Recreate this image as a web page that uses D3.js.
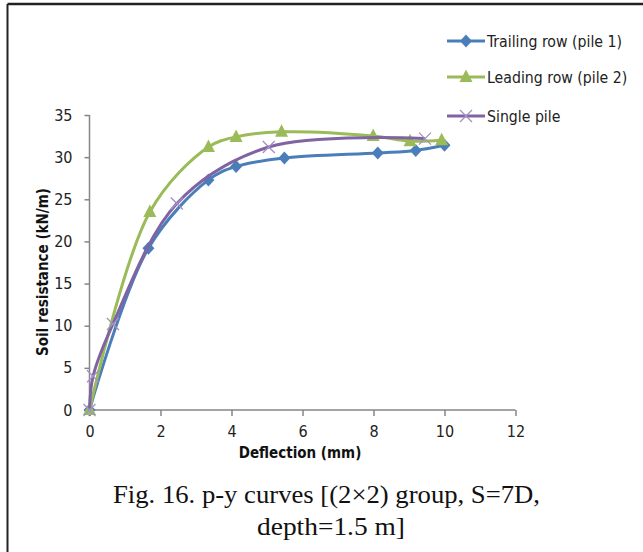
<!DOCTYPE html>
<html><head><meta charset="utf-8">
<script src="https://cdn.jsdelivr.net/npm/d3@7"></script>
<style>
body{margin:0;background:#fff;}
svg{display:block;}
.lab{font-family:"Liberation Sans Narrow","DejaVu Sans Condensed","Open Sans",sans-serif;font-stretch:condensed;}
</style></head>
<body><svg id="c" width="643" height="552"></svg>
<script>
const seriesNames = ["Trailing row (pile 1)", "Leading row (pile 2)", "Single pile"];
const trailingX = [0, 1.66, 3.35, 4.13, 5.49, 8.12, 9.19, 10.0];
const trailingY = [0, 19.2, 27.3, 28.9, 29.9, 30.5, 30.8, 31.4];
const leadingX = [0, 1.70, 3.35, 4.13, 5.41, 7.99, 9.03, 9.92];
const leadingY = [0, 23.5, 31.2, 32.4, 33.0, 32.5, 31.9, 32.0];
const singleX = [0, 0.1, 0.66, 2.46, 5.05, 9.45];
const singleY = [0, 4.0, 10.2, 24.5, 31.2, 32.2];
const xTicks = [0, 2, 4, 6, 8, 10, 12];
const yTicks = [0, 5, 10, 15, 20, 25, 30, 35];
const colors = ["#4a7ebb", "#9bbb59", "#8064a2"];
const markerColors = ["#4a7ebb", "#9bbb59", "#a48fc3"];
const markerTypes = ["diamond", "triangle", "x"];

const svg = d3.select("#c");
// frame
svg.append("line").attr("x1",7.5).attr("x2",643).attr("y1",4).attr("y2",4).attr("stroke","#222").attr("stroke-width",2.5);
svg.append("line").attr("x1",7.5).attr("x2",7.5).attr("y1",4).attr("y2",552).attr("stroke","#222").attr("stroke-width",2);

const x = d3.scaleLinear().domain([0,12]).range([89.5,515.5]);
const y = d3.scaleLinear().domain([0,35]).range([410,115]);

const xAxis = svg.append("g").attr("transform","translate(0,410)")
  .call(d3.axisBottom(x).tickValues(xTicks).tickSize(6).tickPadding(10).tickFormat(d3.format("d")));
const yAxis = svg.append("g").attr("transform","translate(89.5,0)")
  .call(d3.axisLeft(y).tickValues(yTicks).tickSize(5).tickPadding(12).tickFormat(d3.format("d")));
[xAxis,yAxis].forEach(a=>{
  a.selectAll("path,line").attr("stroke","#868686").attr("stroke-width",1.5);
  a.selectAll("text").attr("class","lab").attr("font-size",16).attr("fill","#222");
});
yAxis.select(".domain").attr("d","M0,410V115");
xAxis.select(".domain").attr("d","M89.5,0H515.5");

svg.append("text").attr("class","lab").attr("x",300).attr("y",458).attr("text-anchor","middle")
  .attr("font-size",15).attr("font-weight","bold").attr("fill","#111").text("Deflection (mm)");
svg.append("text").attr("class","lab").attr("transform","translate(48,272) rotate(-90)").attr("text-anchor","middle")
  .attr("font-size",15).attr("font-weight","bold").attr("fill","#111").text("Soil resistance (kN/m)");

const data = [
  trailingX.map((v,i)=>[v,trailingY[i]]),
  leadingX.map((v,i)=>[v,leadingY[i]]),
  singleX.map((v,i)=>[v,singleY[i]])
];
const line = d3.line().x(d=>x(d[0])).y(d=>y(d[1])).curve(d3.curveCatmullRom.alpha(0.5));

function marker(g, type, cx, cy, i){
  if(type==="diamond"){
    g.append("path").attr("d",`M${cx},${cy-6.5}L${cx+6},${cy}L${cx},${cy+6.5}L${cx-6},${cy}Z`).attr("fill",markerColors[i]);
  } else if(type==="triangle"){
    g.append("path").attr("d",`M${cx},${cy-7.5}L${cx+6.5},${cy+5}L${cx-6.5},${cy+5}Z`).attr("fill",markerColors[i]);
  } else {
    g.append("path").attr("d",`M${cx-6},${cy-6}L${cx+6},${cy+6}M${cx+6},${cy-6}L${cx-6},${cy+6}`)
      .attr("stroke",markerColors[i]).attr("stroke-width",1.3).attr("fill","none");
  }
}

data.forEach((pts,i)=>{
  const g = svg.append("g");
  g.append("path").datum(pts).attr("d",line).attr("fill","none").attr("stroke",colors[i]).attr("stroke-width",3);
  pts.forEach(p=>marker(g, markerTypes[i], x(p[0]), y(p[1]), i));
});

// legend
const legY = [41, 77, 116];
seriesNames.forEach((n,i)=>{
  const g = svg.append("g");
  g.append("line").attr("x1",447).attr("x2",485).attr("y1",legY[i]).attr("y2",legY[i]).attr("stroke",colors[i]).attr("stroke-width",3);
  marker(g, markerTypes[i], 466, legY[i], i);
  g.append("text").attr("class","lab").attr("x",487).attr("y",legY[i]+5.5).attr("font-size",15.7).attr("fill","#222").text(n);
});

// caption
svg.append("text").attr("x",326.5).attr("y",503).attr("text-anchor","middle").attr("font-family","Liberation Serif, serif")
  .attr("font-size",25).attr("fill","#111").attr("textLength",427).attr("lengthAdjust","spacingAndGlyphs")
  .text("Fig. 16. p-y curves [(2×2) group, S=7D,");
svg.append("text").attr("x",331).attr("y",535).attr("text-anchor","middle").attr("font-family","Liberation Serif, serif")
  .attr("font-size",25).attr("fill","#111").attr("textLength",148).attr("lengthAdjust","spacingAndGlyphs")
  .text("depth=1.5 m]");
</script></body></html>
